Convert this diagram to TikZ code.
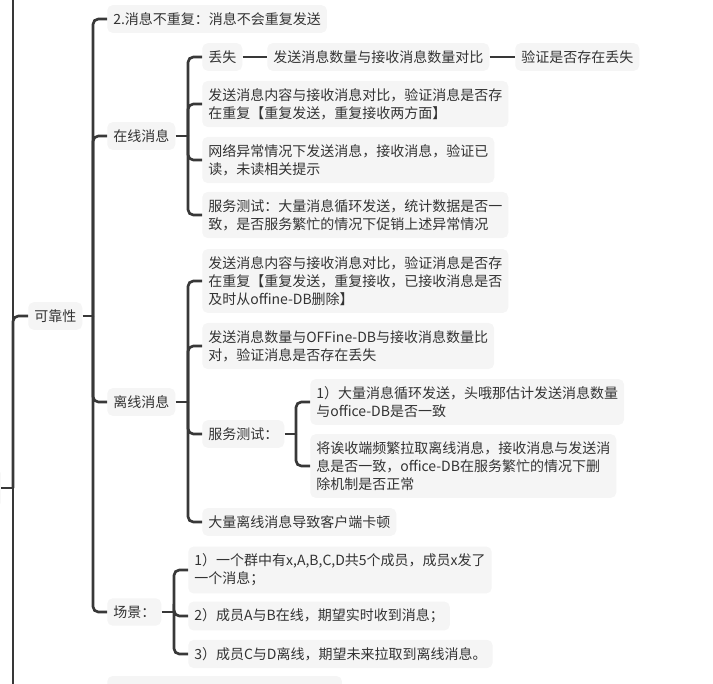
\documentclass[tikz,border=0pt]{standalone}
\usepackage{fontspec}
\usepackage{tikz}
\newfontfamily\cjk{Noto Sans CJK SC}
\definecolor{nodegray}{HTML}{F5F5F5}
\definecolor{textgray}{HTML}{333333}
\definecolor{linegray}{HTML}{383838}

\begin{document}
\begin{tikzpicture}[
					x=0.75pt,y=-0.75pt,
					mnode/.style={fill=nodegray,text=textgray,rounded corners=4pt,anchor=west,align=left,inner xsep=4.5pt,inner ysep=5.5pt,font=\cjk\fontsize{10.5}{13.5}\selectfont},
					medge/.style={draw=linegray,line width=2pt,rounded corners=4pt}
					]
					\useasboundingbox (0,0) rectangle (713,684);
					\clip (0,0) rectangle (713,684);
					\node[mnode,anchor=east,minimum width=60pt,minimum height=30pt] (r) at (1,488) {};
					\node[mnode] (k) at (28,316) {可靠性};
					\node[mnode] (c1) at (107,19) {2.消息不重复：消息不会重复发送};
					\node[mnode] (c2) at (107,136) {在线消息};
					\node[mnode] (c3) at (107,402) {离线消息};
					\node[mnode] (c4) at (107,612) {场景：};
					\node[mnode,minimum width=176pt,minimum height=21pt] (c5) at (107,690) {};
					\node[mnode] (o1) at (202,57) {丢失};
					\node[mnode] (o1b) at (267,57) {发送消息数量与接收消息数量对比};
					\node[mnode] (o1c) at (515,57) {验证是否存在丢失};
					\node[mnode] (o2) at (202,104) {发送消息内容与接收消息对比，验证消息是否存\\在重复【重复发送，重复接收两方面】};
					\node[mnode] (o3) at (202,160) {网络异常情况下发送消息，接收消息，验证已\\读，未读相关提示};
					\node[mnode] (o4) at (202,215) {服务测试：大量消息循环发送，统计数据是否一\\致，是否服务繁忙的情况下促销上述异常情况};
					\node[mnode] (f1) at (202,281) {发送消息内容与接收消息对比，验证消息是否存\\在重复【重复发送，重复接收，已接收消息是否\\及时从offine-DB删除】};
					\node[mnode] (f2) at (202,346) {发送消息数量与OFFine-DB与接收消息数量比\\对，验证消息是否存在丢失};
					\node[mnode] (f3) at (202,434) {服务测试：};
					\node[mnode] (f4) at (202,522) {大量离线消息导致客户端卡顿};
					\node[mnode] (s1) at (310,402) {1）大量消息循环发送，头哦那估计发送消息数量\\与office-DB是否一致};
					\node[mnode] (s2) at (310,466) {将诶收端频繁拉取离线消息，接收消息与发送消\\息是否一致，office-DB在服务繁忙的情况下删\\除机制是否正常};
					\node[mnode] (j1) at (188,570) {1）一个群中有x,A,B,C,D共5个成员，成员x发了\\一个消息；};
					\node[mnode] (j2) at (188,616) {2）成员A与B在线，期望实时收到消息；};
					\node[mnode] (j3) at (188,654) {3）成员C与D离线，期望未来拉取到离线消息。};
					\coordinate (rj) at (13,488);
					\coordinate (rtop) at (13,-5);
					\coordinate (rbot) at (13,690);
					\coordinate (kj) at (93,316);
					\coordinate (oj) at (188,136);
					\coordinate (fj) at (188,402);
					\coordinate (sj) at (296,434);
					\coordinate (jj) at (174,612);
					\draw[medge] (rtop) -- (rbot);
					\draw[medge] (r.east) -- (rj);
					\draw[medge] (rj) |- (k.west);
					\draw[medge] (k.east) -- (kj);
					\foreach \c in {c1,c2,c3,c4}{
						\draw[medge] (kj) |- (\c.west);
					}
					\draw[medge] (c2.east) -- (oj);
					\foreach \c in {o1,o2,o3,o4}{
						\draw[medge] (oj) |- (\c.west);
					}
					\draw[medge] (o1.east) -- (o1b.west);
					\draw[medge] (o1b.east) -- (o1c.west);
					\draw[medge] (c3.east) -- (fj);
					\foreach \c in {f1,f2,f3,f4}{
						\draw[medge] (fj) |- (\c.west);
					}
					\draw[medge] (f3.east) -- (sj);
					\foreach \c in {s1,s2}{
						\draw[medge] (sj) |- (\c.west);
					}
					\draw[medge] (c4.east) -- (jj);
					\foreach \c in {j1,j2,j3}{
						\draw[medge] (jj) |- (\c.west);
					}
				\end{tikzpicture}
\end{document}
